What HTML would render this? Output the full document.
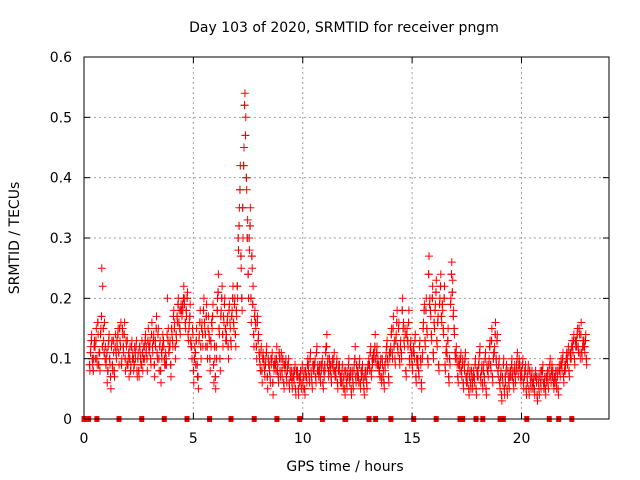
<!DOCTYPE html>
<html><head><meta charset="utf-8"><style>
body{margin:0;background:#fff}
svg{display:block;font-family:"DejaVu Sans","Liberation Sans",sans-serif}
</style></head><body>
<svg id="chart" width="640" height="480" viewBox="0 0 640 480">
<text x="344" y="32" font-size="14" text-anchor="middle">Day 103 of 2020, SRMTID for receiver pngm</text>
<text transform="translate(19,238) rotate(-90)" font-size="14" text-anchor="middle">SRMTID / TECUs</text>
<text x="345" y="471" font-size="14" text-anchor="middle">GPS time / hours</text>
<g id="grid"></g>
<g id="marks"></g>
<g id="axes"></g>
</svg>
<script>
const xTicks=[0,5,10,15,20];
const yTicks=[0,0.1,0.2,0.3,0.4,0.5,0.6];
const yTickLabels=["0","0.1","0.2","0.3","0.4","0.5","0.6"];
const segStart=[0.25,0.5,0.75,1.0,1.25,1.5,1.75,2.0,2.25,2.5,2.75,3.0,3.25,3.5,3.75,4.0,4.25,4.5,4.75,5.0,5.25,5.5,5.75,6.0,6.25,6.5,6.75,7.0,7.25,7.5,7.75,8.0,8.25,8.5,8.75,9.0,9.25,9.5,9.75,10.0,10.25,10.5,10.75,11.0,11.25,11.5,11.75,12.0,12.25,12.5,12.75,13.0,13.25,13.5,13.75,14.0,14.25,14.5,14.75,15.0,15.25,15.5,15.75,16.0,16.25,16.5,16.75,17.0,17.25,17.5,17.75,18.0,18.25,18.5,18.75,19.0,19.25,19.5,19.75,20.0,20.25,20.5,20.75,21.0,21.25,21.5,21.75,22.0,22.25,22.5,22.75];
const segValues=[
[0.08,0.12,0.14,0.09,0.1,0.13],[0.1,0.15,0.09,0.14,0.11,0.08],[0.15,0.25,0.22,0.13,0.16,0.12],[0.1,0.06,0.12,0.14,0.09,0.05],
[0.13,0.08,0.11,0.07,0.14,0.1],[0.12,0.15,0.09,0.13,0.16,0.1],[0.14,0.11,0.16,0.08,0.12,0.13],[0.1,0.07,0.12,0.09,0.13,0.11],
[0.08,0.12,0.1,0.13,0.07,0.11],[0.07,0.11,0.09,0.13,0.08,0.12],[0.1,0.14,0.12,0.08,0.15,0.11],[0.13,0.09,0.16,0.11,0.14,0.07],
[0.12,0.17,0.1,0.15,0.08,0.13],[0.06,0.1,0.14,0.12,0.09,0.11],[0.09,0.2,0.15,0.12,0.13,0.07],[0.14,0.12,0.18,0.16,0.1,0.13],
[0.16,0.2,0.18,0.14,0.19,0.17],[0.18,0.22,0.2,0.15,0.17,0.21],[0.13,0.16,0.19,0.12,0.1,0.14],[0.06,0.12,0.09,0.15,0.07,0.05],
[0.14,0.18,0.1,0.16,0.12,0.2],[0.15,0.12,0.19,0.1,0.17,0.13],[0.08,0.12,0.15,0.19,0.06,0.1],[0.05,0.1,0.2,0.24,0.14,0.08],
[0.18,0.22,0.12,0.16,0.2,0.13],[0.13,0.17,0.1,0.19,0.15,0.12],[0.18,0.22,0.15,0.2,0.12,0.17],[0.2,0.28,0.35,0.42,0.25,0.18],
[0.3,0.45,0.54,0.5,0.38,0.33],[0.2,0.28,0.35,0.16,0.25,0.22],[0.12,0.18,0.15,0.1,0.17,0.14],[0.1,0.08,0.12,0.06,0.11,0.09],
[0.07,0.1,0.12,0.05,0.09,0.08],[0.06,0.09,0.11,0.04,0.08,0.1],[0.08,0.12,0.09,0.06,0.1,0.07],[0.11,0.07,0.09,0.05,0.08,0.1],
[0.06,0.09,0.1,0.05,0.07,0.08],[0.05,0.08,0.06,0.09,0.04,0.07],[0.07,0.04,0.06,0.08,0.05,0.09],[0.05,0.08,0.04,0.07,0.06,0.1],
[0.09,0.06,0.11,0.07,0.05,0.08],[0.08,0.1,0.06,0.12,0.09,0.07],[0.09,0.06,0.08,0.1,0.05,0.07],[0.08,0.12,0.14,0.1,0.07,0.09],
[0.09,0.06,0.1,0.08,0.11,0.07],[0.07,0.1,0.05,0.09,0.08,0.06],[0.06,0.09,0.05,0.08,0.04,0.07],[0.05,0.08,0.1,0.06,0.07,0.04],
[0.07,0.05,0.09,0.12,0.06,0.08],[0.08,0.06,0.1,0.05,0.07,0.09],[0.06,0.04,0.08,0.07,0.05,0.09],[0.1,0.08,0.12,0.07,0.09,0.11],
[0.11,0.14,0.09,0.12,0.1,0.08],[0.07,0.1,0.06,0.09,0.08,0.05],[0.08,0.11,0.13,0.09,0.06,0.1],[0.12,0.15,0.1,0.17,0.13,0.09],
[0.14,0.18,0.11,0.16,0.09,0.13],[0.1,0.2,0.16,0.12,0.14,0.07],[0.15,0.12,0.18,0.09,0.13,0.1],[0.08,0.12,0.1,0.14,0.06,0.09],
[0.1,0.07,0.13,0.09,0.05,0.11],[0.16,0.19,0.12,0.2,0.14,0.09],[0.27,0.2,0.17,0.13,0.22,0.1],[0.15,0.19,0.23,0.12,0.17,0.08],
[0.2,0.24,0.16,0.18,0.14,0.22],[0.08,0.12,0.1,0.15,0.06,0.09],[0.2,0.26,0.23,0.18,0.14,0.1],[0.12,0.09,0.06,0.1,0.08,0.11],
[0.07,0.1,0.05,0.08,0.11,0.06],[0.06,0.09,0.04,0.08,0.05,0.07],[0.05,0.08,0.06,0.1,0.04,0.07],[0.07,0.1,0.12,0.06,0.09,0.05],
[0.09,0.06,0.11,0.04,0.08,0.07],[0.1,0.13,0.08,0.15,0.06,0.11],[0.12,0.16,0.09,0.14,0.07,0.1],[0.05,0.08,0.03,0.06,0.1,0.04],
[0.06,0.09,0.04,0.07,0.05,0.08],[0.07,0.1,0.08,0.05,0.09,0.06],[0.09,0.11,0.07,0.1,0.08,0.06],[0.07,0.1,0.05,0.08,0.09,0.04],
[0.06,0.09,0.04,0.07,0.05,0.08],[0.05,0.07,0.04,0.08,0.06,0.03],[0.06,0.04,0.08,0.05,0.07,0.09],[0.05,0.07,0.04,0.06,0.08,0.05],
[0.07,0.1,0.06,0.09,0.08,0.05],[0.06,0.08,0.05,0.07,0.04,0.09],[0.07,0.1,0.08,0.11,0.06,0.09],[0.08,0.11,0.09,0.12,0.07,0.1],
[0.1,0.13,0.11,0.14,0.09,0.12],[0.12,0.15,0.11,0.14,0.1,0.16],[0.1,0.13,0.12,0.11,0.14,0.09]];
const segValues2=[
[0.09,0.11,0.13,0.1,0.08,0.12],[0.12,0.13,0.1,0.16,0.09,0.11],[0.14,0.17,0.12,0.15,0.11,0.1],[0.09,0.11,0.08,0.13,0.1,0.07],
[0.12,0.09,0.13,0.08,0.12,0.11],[0.13,0.14,0.11,0.15,0.12,0.09],[0.15,0.12,0.14,0.1,0.13,0.09],[0.09,0.11,0.1,0.08,0.12,0.1],
[0.1,0.09,0.11,0.12,0.08,0.1],[0.08,0.12,0.1,0.09,0.11,0.1],[0.12,0.13,0.11,0.1,0.13,0.12],[0.12,0.1,0.14,0.12,0.13,0.09],
[0.13,0.15,0.11,0.14,0.1,0.12],[0.08,0.11,0.12,0.13,0.1,0.09],[0.1,0.14,0.13,0.11,0.12,0.09],[0.15,0.13,0.17,0.15,0.12,0.14],
[0.17,0.19,0.16,0.15,0.18,0.18],[0.19,0.2,0.19,0.16,0.18,0.2],[0.14,0.15,0.17,0.13,0.12,0.15],[0.08,0.1,0.11,0.13,0.09,0.07],
[0.13,0.16,0.12,0.15,0.14,0.18],[0.16,0.14,0.17,0.12,0.15,0.14],[0.1,0.13,0.16,0.17,0.09,0.12],[0.07,0.12,0.18,0.21,0.15,0.1],
[0.17,0.2,0.14,0.17,0.19,0.15],[0.14,0.16,0.12,0.18,0.16,0.13],[0.17,0.2,0.16,0.19,0.14,0.18],[0.22,0.3,0.32,0.38,0.27,0.2],
[0.35,0.42,0.52,0.47,0.4,0.3],[0.24,0.3,0.32,0.2,0.27,0.19],[0.14,0.17,0.16,0.12,0.16,0.13],[0.11,0.09,0.11,0.08,0.1,0.1],
[0.08,0.09,0.11,0.07,0.1,0.09],[0.07,0.1,0.1,0.06,0.09,0.09],[0.09,0.1,0.08,0.07,0.11,0.08],[0.1,0.08,0.1,0.06,0.09,0.09],
[0.07,0.08,0.09,0.06,0.08,0.07],[0.06,0.07,0.07,0.08,0.05,0.08],[0.08,0.05,0.07,0.07,0.06,0.08],[0.06,0.07,0.05,0.08,0.07,0.09],
[0.08,0.07,0.1,0.08,0.06,0.09],[0.09,0.09,0.07,0.11,0.08,0.08],[0.08,0.07,0.09,0.09,0.06,0.08],[0.09,0.11,0.12,0.09,0.08,0.1],
[0.08,0.07,0.09,0.09,0.1,0.08],[0.08,0.09,0.06,0.08,0.09,0.07],[0.07,0.08,0.06,0.07,0.05,0.08],[0.06,0.07,0.09,0.07,0.08,0.05],
[0.08,0.06,0.08,0.1,0.07,0.09],[0.07,0.07,0.09,0.06,0.08,0.08],[0.07,0.05,0.07,0.08,0.06,0.08],[0.09,0.09,0.11,0.08,0.1,0.1],
[0.1,0.12,0.1,0.11,0.09,0.09],[0.08,0.09,0.07,0.1,0.07,0.06],[0.09,0.1,0.12,0.1,0.07,0.11],[0.11,0.14,0.11,0.15,0.12,0.1],
[0.13,0.16,0.12,0.15,0.1,0.12],[0.11,0.18,0.15,0.13,0.15,0.08],[0.14,0.13,0.16,0.1,0.12,0.11],[0.09,0.11,0.11,0.13,0.07,0.1],
[0.09,0.08,0.12,0.1,0.06,0.1],[0.15,0.18,0.13,0.18,0.15,0.1],[0.24,0.19,0.18,0.14,0.2,0.11],[0.16,0.18,0.21,0.13,0.16,0.09],
[0.19,0.22,0.17,0.19,0.15,0.2],[0.09,0.11,0.11,0.13,0.07,0.1],[0.19,0.24,0.21,0.17,0.15,0.11],[0.11,0.1,0.07,0.09,0.09,0.1],
[0.08,0.09,0.06,0.09,0.1,0.07],[0.07,0.08,0.05,0.07,0.06,0.08],[0.06,0.07,0.07,0.09,0.05,0.08],[0.08,0.09,0.11,0.07,0.08,0.06],
[0.08,0.07,0.1,0.05,0.09,0.08],[0.09,0.12,0.09,0.13,0.07,0.1],[0.11,0.14,0.1,0.13,0.08,0.09],[0.06,0.07,0.04,0.07,0.09,0.05],
[0.07,0.08,0.05,0.08,0.06,0.07],[0.08,0.09,0.07,0.06,0.08,0.07],[0.08,0.1,0.08,0.09,0.09,0.07],[0.08,0.09,0.06,0.07,0.08,0.05],
[0.07,0.08,0.05,0.08,0.06,0.07],[0.06,0.06,0.05,0.07,0.07,0.04],[0.07,0.05,0.07,0.06,0.08,0.08],[0.06,0.06,0.05,0.07,0.07,0.06],
[0.08,0.09,0.07,0.08,0.07,0.06],[0.07,0.07,0.06,0.08,0.05,0.08],[0.08,0.09,0.09,0.1,0.07,0.08],[0.09,0.1,0.1,0.11,0.08,0.11],
[0.11,0.12,0.12,0.13,0.1,0.13],[0.13,0.14,0.12,0.15,0.11,0.14],[0.11,0.12,0.13,0.12,0.13,0.1]];
const gapTimes=[0,0.21,0.59,1.6,2.64,3.67,4.71,5.74,6.72,7.78,8.82,9.86,10.9,11.93,11.96,13.03,13.33,14.03,15.07,16.1,17.19,17.31,17.92,18.23,19.02,19.17,20.24,21.27,21.7,22.3];
const L=84,R=609,T=57,B=419,XMAX=24,YMAX=0.6;
const sx=v=>L+(v/XMAX)*(R-L);
const sy=v=>B-(v/YMAX)*(B-T);
const NS='http://www.w3.org/2000/svg';
function mk(tag,attrs,parent){const e=document.createElementNS(NS,tag);for(const k in attrs)e.setAttribute(k,attrs[k]);parent.appendChild(e);return e;}
const grid=document.getElementById('grid'),marks=document.getElementById('marks'),axes=document.getElementById('axes');
yTicks.forEach((v,i)=>{
  if(v>0&&v<YMAX){const g=mk('line',{x1:L,x2:R,y1:sy(v),y2:sy(v),stroke:'#a0a0a0','stroke-dasharray':'2,3','stroke-width':1},grid);
  
  }
  const t=mk('text',{x:L-12,y:sy(v)+5,'font-size':14,'text-anchor':'end'},axes);t.textContent=yTickLabels[i];
  
  
  mk('line',{x1:L,x2:L+6,y1:sy(v),y2:sy(v),stroke:'#000'},axes);
  mk('line',{x1:R,x2:R-6,y1:sy(v),y2:sy(v),stroke:'#000'},axes);
});
xTicks.forEach(v=>{
  if(v>0){const g=mk('line',{x1:sx(v),x2:sx(v),y1:T,y2:B,stroke:'#a0a0a0','stroke-dasharray':'2,3','stroke-width':1},grid);
  
  }
  const t=mk('text',{x:sx(v),y:B+24,'font-size':14,'text-anchor':'middle'},axes);t.textContent=String(v);
  
  
  mk('line',{x1:sx(v),x2:sx(v),y1:B,y2:B-6,stroke:'#000'},axes);
  mk('line',{x1:sx(v),x2:sx(v),y1:T,y2:T+6,stroke:'#000'},axes);
});
const frame=mk('rect',{x:L,y:T,width:R-L,height:B-T,fill:'none',stroke:'#000','stroke-width':1},axes);


function crosses(values,off,hs){let d='';segStart.forEach((s,i)=>{const vals=values[i];vals.forEach((v,j)=>{
  const x=sx(s+0.25*(j+off)/vals.length),y=sy(v);
  d+=`M${(x-hs).toFixed(1)} ${y.toFixed(1)}h${2*hs}M${x.toFixed(1)} ${(y-hs).toFixed(1)}v${2*hs}`;
});});return d;}
const pb=mk('path',{d:crosses(segValues2,0.2,4),stroke:'#303030','stroke-width':1,fill:'none'},marks);


const p2=mk('path',{d:crosses(segValues2,0.05,4),stroke:'#ff0000','stroke-width':1,fill:'none'},marks);


const p=mk('path',{d:crosses(segValues,0.5,4),stroke:'#ff0000','stroke-width':1,fill:'none'},marks);


gapTimes.forEach(t=>{
  const r=mk('rect',{x:sx(t)-2.5,y:B-3,width:5,height:6,fill:'#ff0000'},marks);
  
  
});
</script>
</body></html>
